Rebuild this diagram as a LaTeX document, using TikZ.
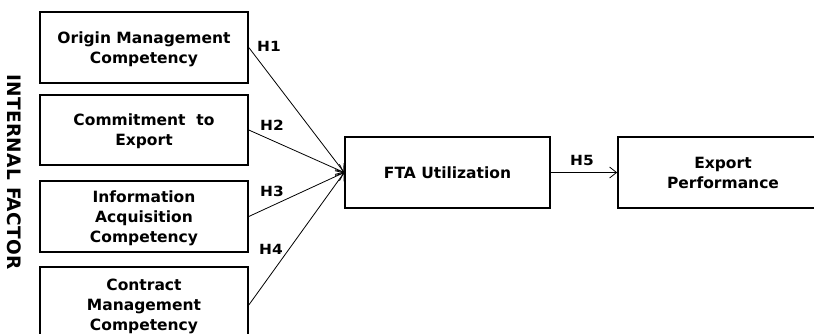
\documentclass[tikz,border=0pt]{standalone}
\usepackage{fontspec}
\setmainfont{DejaVu Sans}
\newfontfamily\boxfont{DejaVu Sans}
\newfontfamily\hypfont{DejaVu Sans}[FakeStretch=1.1]
\newfontfamily\sidefont{DejaVu Sans}[LetterSpace=2]
\usetikzlibrary{arrows.meta}
\tikzset{
  factor/.style={draw, line width=1.6pt, minimum width=208pt, align=center,
    font=\boxfont\bfseries\fontsize{15.5}{20}\selectfont, inner sep=0pt, text depth=0pt},
  hyp/.style={font=\hypfont\bfseries\fontsize{14}{15}\selectfont, inner sep=0pt},
  link/.style={line width=0.8pt, -{Straight Barb[length=7pt,width=11pt]}}
}
\begin{document}
\begin{tikzpicture}[x=1pt,y=-1pt]
\useasboundingbox (0,0) rectangle (814,333);
\clip (0,0) rectangle (814,333);
\node[factor, minimum height=71pt] (b1) at (144,47.5) {Origin Management\\Competency};
\node[factor, minimum height=70pt] (b2) at (144,130) {Commitment~ to\\Export};
\node[factor, minimum height=71pt] (b3) at (144,216.5) {Information\\Acquisition\\Competency};
\node[factor, minimum height=76pt] (b4) at (144,305) {Contract\\Management\\Competency};
\node[factor, minimum width=205pt, minimum height=71pt] (fta) at (447.5,172.5) {FTA Utilization};
\node[factor, minimum width=210pt, minimum height=71pt] (exp) at (723,172.5) {Export\\Performance};
\node[font=\sidefont\bfseries\fontsize{18.5}{20}\selectfont, rotate=-90, inner sep=0pt] (side) at (14,172) {INTERNAL FACTOR};
\draw[link] (b1.east) -- (fta.west);
\draw[link] (b2.east) -- (fta.west);
\draw[link] (b3.east) -- (fta.west);
\draw[link] (b4.east) -- (fta.west);
\draw[link] (fta.east) -- (exp.west);
\node[hyp] (h1) at (269,46) {H1};
\node[hyp] (h2) at (272,125) {H2};
\node[hyp] (h3) at (272,191) {H3};
\node[hyp] (h4) at (271,249) {H4};
\node[hyp] (h5) at (582,160) {H5};
\end{tikzpicture}
\end{document}
